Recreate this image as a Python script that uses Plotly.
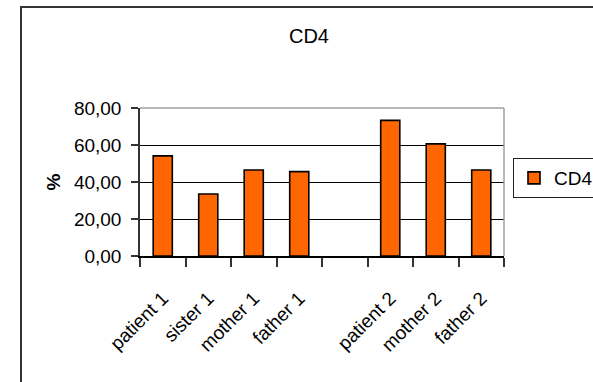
import plotly.graph_objects as go

categories = ["patient 1", "sister 1", "mother 1", "father 1", " ", "patient 2", "mother 2", "father 2"]
cd4_values = [54.1, 33.5, 46.5, 45.6, None, 73.3, 60.6, 46.5]
y_tick_values = [0, 20, 40, 60, 80]
y_tick_labels = ["0,00", "20,00", "40,00", "60,00", "80,00"]

FONT = "Liberation Sans, Arial, sans-serif"
L, R, T, B = 140, 504, 108, 256  # plot area in pixels
W, H = 593, 382

fig = go.Figure()
fig.add_trace(go.Bar(
    x=categories, y=cd4_values, name="CD4",
    marker=dict(color="#FF6600", line=dict(color="black", width=1.6)),
    width=0.42,
))

fig.update_layout(
    width=W, height=H,
    margin=dict(l=L, r=W - R, t=T, b=H - B, autoexpand=False),
    paper_bgcolor="white", plot_bgcolor="white",
    font=dict(family=FONT, size=19, color="black"),
    title=dict(text="CD4", x=309 / W, xanchor="center", xref="container",
               y=1 - 36 / H, yanchor="middle", yref="container", font=dict(size=20)),
    showlegend=True,
    legend=dict(x=513 / W, y=1 - 158 / H, xanchor="left", yanchor="top",
                xref="container", yref="container",
                bordercolor="#222", borderwidth=1, font=dict(size=19),
                bgcolor="white", itemwidth=30, tracegroupgap=0),
)

fig.update_xaxes(
    type="category", categoryorder="array", categoryarray=categories,
    showline=True, linecolor="black", linewidth=1.5,
    ticks="outside", tickson="boundaries", ticklen=9, tickcolor="#333", tickwidth=1.5,
    tickangle=-45, ticklabelstandoff=22,
    showgrid=False, range=[-0.5, 7.5], automargin=False,
)
fig.update_yaxes(
    range=[0, 80], tickvals=y_tick_values, ticktext=y_tick_labels,
    showline=True, linecolor="#333", linewidth=1.5,
    ticks="outside", ticklen=7, tickcolor="#333", tickwidth=1.5, ticklabelstandoff=6,
    showgrid=True, gridcolor="black", gridwidth=1, zeroline=False,
    title=dict(text="<b>%</b>", standoff=8, font=dict(size=19)),
    automargin=False,
)

# plot-area frame (top and right) in gray
fig.add_shape(type="line", xref="paper", yref="paper", x0=0, x1=1, y0=1, y1=1,
              line=dict(color="#a0a0a0", width=1.5))
fig.add_shape(type="line", xref="paper", yref="paper", x0=1, x1=1, y0=0, y1=1,
              line=dict(color="#a0a0a0", width=1.5))
# outer chart-area border (left and top edges visible)
pw, ph = R - L, B - T
fig.add_shape(type="path", xref="paper", yref="paper",
              path="M %f %f L %f %f L %f %f" % ((21 - L) / pw, (B - 400) / ph,
                                                (21 - L) / pw, (B - 7) / ph,
                                                (620 - L) / pw, (B - 7) / ph),
              line=dict(color="#333", width=2))

fig.write_html("out.html", config={"displayModeBar": False},
               post_script="document.body.style.margin='0';document.body.style.overflow='hidden';")
